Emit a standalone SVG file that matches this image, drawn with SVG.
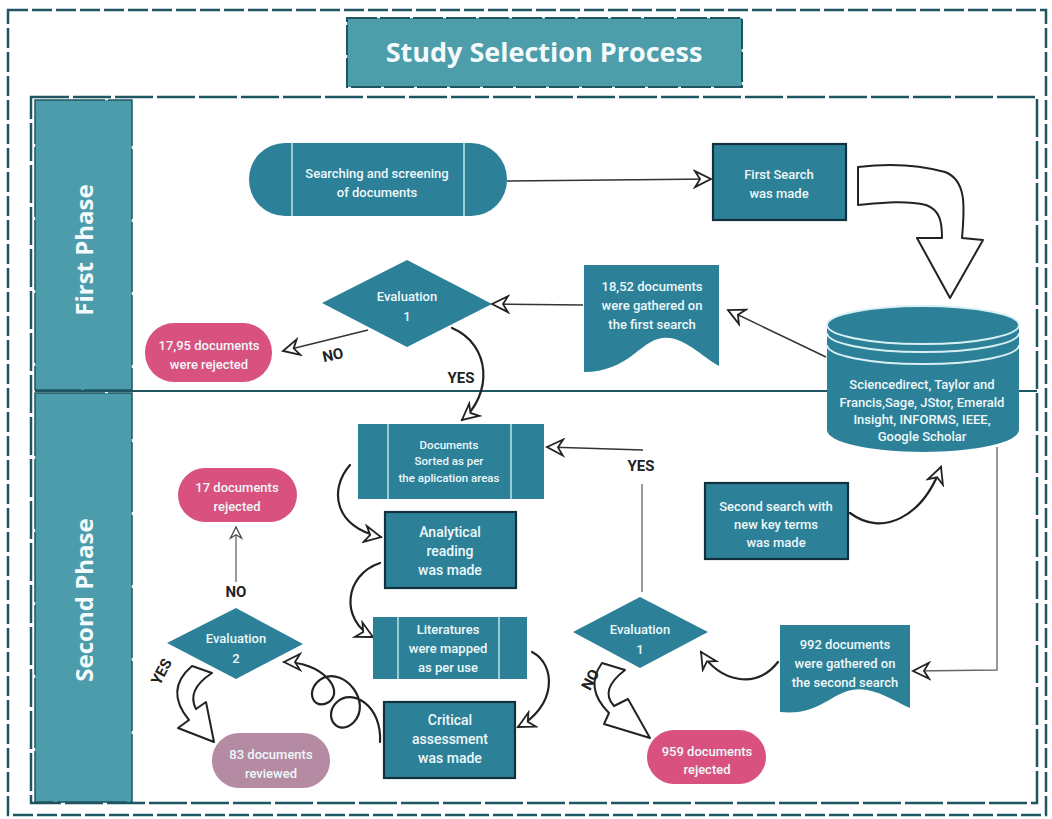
<svg xmlns="http://www.w3.org/2000/svg" width="1052" height="819" viewBox="0 0 1052 819">
<defs>
<style>
.frame{fill:none;stroke:#1d5560;stroke-width:2.5}
.lane{fill:#4d9cac;stroke:#1d5560;stroke-width:1.5;stroke-dasharray:70 3}
.node{fill:#2c8199}
.box{fill:#2c8199;stroke:#13313a;stroke-width:2.2}
.pink{fill:#d9517f}
.mauve{fill:#b58ba4}
.inner{stroke:#bfe6ee;stroke-width:1.5;fill:none}
.t{font-family:Roboto,"Liberation Sans",sans-serif;font-weight:500;font-size:13px;fill:#eef8fa;text-anchor:middle}
.ts{font-size:11.5px}
.tl{font-size:14px}
.lab{font-family:"Open Sans","Liberation Sans",sans-serif;font-weight:700;fill:#f4fbfc;text-anchor:middle}
.lbl{font-family:Roboto,"Liberation Sans",sans-serif;font-weight:700;font-size:15px;fill:#222;text-anchor:middle}
.c{fill:none;stroke:#222;stroke-width:2.2;stroke-linecap:round}
.cl{fill:none;stroke:#333;stroke-width:1.5}
.thin{fill:none;stroke:#666;stroke-width:1.3}
.hol{fill:#fff;stroke:#222;stroke-width:2;stroke-linejoin:round}
</style>
<marker id="ah" viewBox="0 0 20 20" refX="18" refY="10" markerWidth="20" markerHeight="20" markerUnits="userSpaceOnUse" orient="auto">
<path d="M2,2 L18,10 L2,18 L7,10 Z" fill="#fff" stroke="#222" stroke-width="1.8"/>
</marker>
<marker id="ahs" viewBox="0 0 20 20" refX="18" refY="10" markerWidth="14" markerHeight="14" markerUnits="userSpaceOnUse" orient="auto">
<path d="M2,2 L18,10 L2,18 L7,10 Z" fill="#fff" stroke="#444" stroke-width="1.8"/>
</marker>
</defs>
<rect width="1052" height="819" fill="#fff"/>

<g id="frame">
<rect class="frame" x="8" y="10" width="1038" height="805" stroke-dasharray="20 4"/>
<rect class="frame" x="31" y="97" width="1006" height="706" stroke-dasharray="38 4"/>
<line x1="35" y1="391" x2="1037" y2="391" stroke="#1d5560" stroke-width="1.8"/>
</g>

<g id="title">
<rect x="347" y="18" width="395" height="69" fill="#4e9dab" stroke="#1d5560" stroke-width="2" stroke-dasharray="30 3"/>
<text class="lab" x="544" y="62" font-size="27">Study Selection Process</text>
</g>

<g id="lane-first">
<rect class="lane" x="35" y="100" width="97" height="290"/>
<text class="lab" font-size="24" transform="translate(93,250) rotate(-90)">First Phase</text>
</g>
<g id="lane-second">
<rect class="lane" x="35" y="393" width="97" height="409"/>
<text class="lab" font-size="24" transform="translate(93,600) rotate(-90)">Second Phase</text>
</g>

<g id="connectors">
<path class="cl" d="M507,181 L711,179" marker-end="url(#ah)"/>
<path class="hol" d="M858,167 C890,163 920,165 945,172 C966,180 965,205 962,238 L983,240 L950,298 L917,238 L942,238 C942,222 940,210 926,205 C905,200 880,203 858,205 Z"/>
<path class="cl" d="M826,357 L728,310" marker-end="url(#ah)"/>
<path class="cl" d="M583,305 L492,304" marker-end="url(#ah)"/>
<path class="cl" d="M368,330 L283,351" marker-end="url(#ah)"/>
<path class="c" d="M452,328 C492,345 492,395 462,420" marker-end="url(#ah)"/>
<path class="c" d="M350,465 C328,490 335,528 381,537" marker-end="url(#ah)"/>
<path class="c" d="M380,563 C344,575 340,620 373,637" marker-end="url(#ah)"/>
<path class="c" d="M532,652 C557,665 556,707 518,727" marker-end="url(#ah)"/>
<path class="c" d="M380,742 C382,705 352,688 337,702 C322,716 338,738 354,722 C372,702 345,668 323,678 C304,688 312,712 329,702 C345,690 322,662 284,662" marker-end="url(#ah)"/>
<path class="thin" d="M236,582 L236,527" marker-end="url(#ahs)"/>
<path class="hol" d="M192,666 L212,673 Q186,690 196,709 L206,702 L214,742 L178,728 L189,720 Q164,690 192,666 Z"/>
<path class="thin" d="M642,592 L642,484"/>
<path class="cl" d="M643,450 L547,447" marker-end="url(#ah)"/>
<path class="c" d="M850,513 C882,537 922,518 941,467" marker-end="url(#ah)"/>
<path class="thin" d="M997,447 L997,670 L913,671" marker-end="url(#ah)"/>
<path class="c" d="M778,662 C756,690 720,682 701,652" marker-end="url(#ah)"/>
<path class="hol" d="M602,663 L625,670 Q599,690 614,706 L628,699 L650,738 L604,724 L609,713 Q584,688 602,663 Z"/>
<text class="lbl" transform="translate(334,360) rotate(-12)">NO</text>
<text class="lbl" x="461" y="383">YES</text>
<text class="lbl" x="236" y="597">NO</text>
<text class="lbl" font-size="14" transform="translate(166,674) rotate(-62)">YES</text>
<text class="lbl" font-size="14" x="641" y="471">YES</text>
<text class="lbl" font-size="12" transform="translate(595,682) rotate(-62)">NO</text>
</g>

<g id="searching">
<rect class="node" x="249" y="143" width="258" height="73" rx="36"/>
<line class="inner" x1="292" y1="143" x2="292" y2="216"/>
<line class="inner" x1="464" y1="143" x2="464" y2="216"/>
<text class="t" x="377" y="178">Searching and screening</text>
<text class="t" x="377" y="197">of documents</text>
</g>

<g id="first-search">
<rect class="box" x="713" y="144" width="133" height="76"/>
<text class="t" x="779" y="179">First Search</text>
<text class="t" x="779" y="198">was made</text>
</g>

<g id="database">
<path class="node" d="M827,325 L1019,325 L1019,430 A96,22 0 0 1 827,430 Z"/>
<ellipse class="node" cx="923" cy="325" rx="96" ry="19" stroke="#d8f0f4" stroke-width="2"/>
<path d="M827,333 A96,19 0 0 0 1019,333" fill="none" stroke="#d8f0f4" stroke-width="2"/>
<path d="M827,345 A96,19 0 0 0 1019,345" fill="none" stroke="#d8f0f4" stroke-width="2"/>
<text class="t" font-size="12" x="922" y="389">Sciencedirect, Taylor and</text>
<text class="t" font-size="12" x="922" y="407">Francis,Sage, JStor, Emerald</text>
<text class="t" font-size="12" x="922" y="424">Insight, INFORMS, IEEE,</text>
<text class="t" font-size="12" x="922" y="441">Google Scholar</text>
</g>

<g id="doc-first">
<path class="node" d="M584,265 H719 V366 C700,355 682,335 662,338 C640,341 628,372 584,372 Z"/>
<text class="t" x="652" y="291">18,52 documents</text>
<text class="t" x="652" y="310">were gathered on</text>
<text class="t" x="652" y="329">the first search</text>
</g>

<g id="eval1-first">
<path class="node" d="M407,260 L492,304 L407,347 L322,303 Z"/>
<text class="t" x="407" y="301">Evaluation</text>
<text class="t" x="407" y="321">1</text>
</g>

<g id="rejected-1795">
<rect class="pink" x="145" y="323" width="127" height="59" rx="29"/>
<text class="t" x="209" y="350">17,95 documents</text>
<text class="t" x="209" y="369">were rejected</text>
</g>

<g id="sorted">
<rect class="node" x="358" y="424" width="186" height="75"/>
<line class="inner" x1="388" y1="424" x2="388" y2="499"/>
<line class="inner" x1="511" y1="424" x2="511" y2="499"/>
<text class="t ts" x="449" y="449">Documents</text>
<text class="t ts" x="449" y="465">Sorted as per</text>
<text class="t ts" x="449" y="482">the aplication areas</text>
</g>

<g id="rejected-17">
<rect class="pink" x="178" y="468" width="119" height="54" rx="27"/>
<text class="t" x="237" y="492">17 documents</text>
<text class="t" x="237" y="511">rejected</text>
</g>

<g id="analytical">
<rect class="box" x="385" y="512" width="131" height="76"/>
<text class="t tl" x="450" y="537">Analytical</text>
<text class="t tl" x="450" y="556">reading</text>
<text class="t tl" x="450" y="575">was made</text>
</g>

<g id="literatures">
<rect class="node" x="373" y="617" width="154" height="62"/>
<line class="inner" x1="398" y1="617" x2="398" y2="679"/>
<line class="inner" x1="499" y1="617" x2="499" y2="679"/>
<text class="t" x="448" y="634">Literatures</text>
<text class="t" x="448" y="653">were mapped</text>
<text class="t" x="448" y="672">as per use</text>
</g>

<g id="critical">
<rect class="box" x="384" y="702" width="131" height="76"/>
<text class="t tl" x="450" y="725">Critical</text>
<text class="t tl" x="450" y="744">assessment</text>
<text class="t tl" x="450" y="763">was made</text>
</g>

<g id="eval2">
<path class="node" d="M236,608 L303,644 L236,679 L167,643 Z"/>
<text class="t" x="236" y="643">Evaluation</text>
<text class="t" x="236" y="663">2</text>
</g>

<g id="reviewed-83">
<rect class="mauve" x="212" y="733" width="118" height="55" rx="27"/>
<text class="t" x="271" y="759">83 documents</text>
<text class="t" x="271" y="778">reviewed</text>
</g>

<g id="second-search">
<rect class="box" x="705" y="483" width="143" height="76"/>
<text class="t" x="776" y="511">Second search with</text>
<text class="t" x="776" y="529">new key terms</text>
<text class="t" x="776" y="547">was made</text>
</g>

<g id="doc-second">
<path class="node" d="M780,625 H910 V708 C892,700 872,686 852,690 C830,694 818,716 780,712 Z"/>
<text class="t" x="845" y="649">992 documents</text>
<text class="t" x="845" y="668">were gathered on</text>
<text class="t" x="845" y="687">the second search</text>
</g>

<g id="eval1-second">
<path class="node" d="M640,597 L708,632 L640,668 L573,632 Z"/>
<text class="t" x="640" y="634">Evaluation</text>
<text class="t" x="640" y="654">1</text>
</g>

<g id="rejected-959">
<rect class="pink" x="647" y="730" width="119" height="54" rx="27"/>
<text class="t" x="707" y="756">959 documents</text>
<text class="t" x="707" y="774">rejected</text>
</g>
</svg>
